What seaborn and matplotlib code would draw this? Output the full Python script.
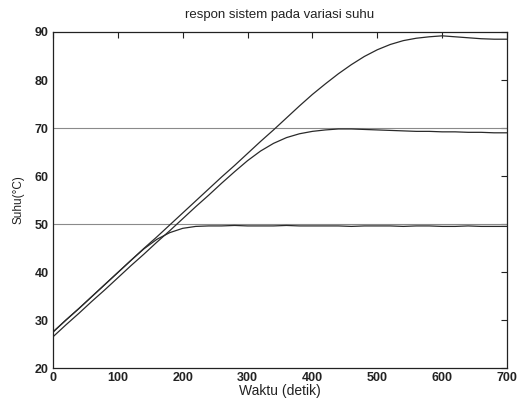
import matplotlib
matplotlib.use("Agg")
import matplotlib.pyplot as plt
import seaborn as sns
import pandas as pd

# Time axis (seconds) shared by every measured response
waktu = list(range(0, 701, 20))

# Temperature response for the highest setpoint
suhu_tinggi = [27.5, 30.0, 32.4, 34.9, 37.4, 39.9, 42.4, 44.9, 47.3, 49.8,
               52.3, 54.8, 57.3, 59.8, 62.2, 64.7, 67.2, 69.6, 72.1, 74.6,
               77.0, 79.2, 81.3, 83.2, 84.9, 86.3, 87.4, 88.2, 88.7, 89.0,
               89.2, 89.0, 88.8, 88.6, 88.5, 88.5]

# Temperature response for the 70 °C setpoint
suhu_sedang = [26.5, 29.0, 31.4, 33.9, 36.3, 38.8, 41.3, 43.7, 46.2, 48.6,
               51.1, 53.6, 56.0, 58.5, 60.9, 63.2, 65.2, 66.8, 68.0, 68.8,
               69.3, 69.6, 69.8, 69.8, 69.7, 69.6, 69.5, 69.4, 69.3, 69.3,
               69.2, 69.2, 69.1, 69.1, 69.0, 69.0]

# Temperature response for the 50 °C setpoint
suhu_rendah = [27.5, 30.0, 32.4, 34.9, 37.4, 39.9, 42.4, 44.8, 46.8, 48.2,
               49.1, 49.5, 49.6, 49.6, 49.7, 49.6, 49.6, 49.6, 49.7, 49.6,
               49.6, 49.6, 49.6, 49.5, 49.6, 49.6, 49.6, 49.5, 49.6, 49.6,
               49.5, 49.5, 49.6, 49.5, 49.5, 49.5]

# Reference setpoint lines
setpoint = [70, 50]

x_ticks = [0, 100, 200, 300, 400, 500, 600, 700]
y_ticks = [20, 30, 40, 50, 60, 70, 80, 90]

sns.set_style("white")
plt.rcParams["font.family"] = ["Liberation Sans", "DejaVu Sans"]

fig = plt.figure(figsize=(5.18, 4.03), dpi=100)
ax = fig.add_axes([0.1023, 0.0868, 0.8765, 0.8338])

for sp in setpoint:
    ax.axhline(sp, color="#8a8a8a", lw=0.8, zorder=1)

df = pd.DataFrame({"waktu": waktu, "tinggi": suhu_tinggi,
                   "sedang": suhu_sedang, "rendah": suhu_rendah})
for kolom in ["tinggi", "sedang", "rendah"]:
    sns.lineplot(data=df, x="waktu", y=kolom, ax=ax, color="#2a2a2a",
                 lw=0.9, zorder=2)

ax.set_xlim(0, 700)
ax.set_ylim(20, 90)
ax.set_xticks(x_ticks)
ax.set_yticks(y_ticks)
ax.tick_params(direction="in", length=4, width=0.8, top=True, right=True,
               labelsize=9, colors="#222222", pad=3)
for lbl in ax.get_xticklabels() + ax.get_yticklabels():
    lbl.set_fontweight("bold")
for s in ax.spines.values():
    s.set_visible(True)
    s.set_color("#222222")
    s.set_linewidth(0.9)

ax.set_title("respon sistem pada variasi suhu", fontsize=9.5, pad=10,
             color="#222222")
ax.set_xlabel("Waktu (detik)", fontsize=10, labelpad=0, color="#222222")
ax.set_ylabel("Suhu(°C)", fontsize=8.5, labelpad=7, color="#222222")

fig.savefig("out.png", dpi=100, facecolor="white")
